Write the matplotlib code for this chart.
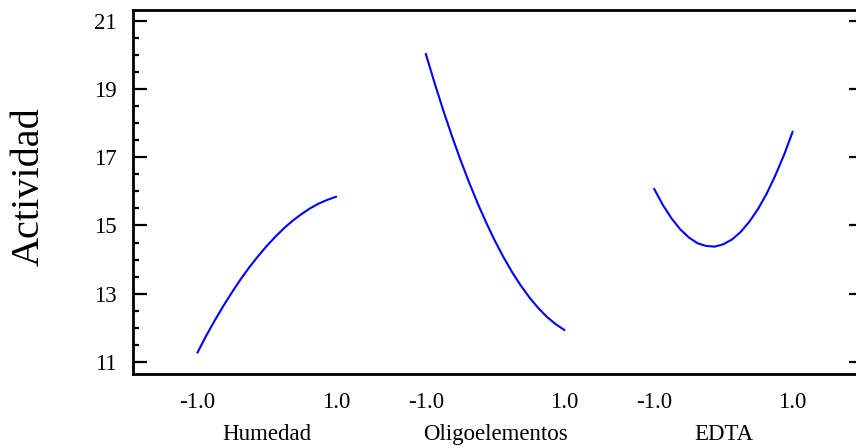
import matplotlib

matplotlib.use("Agg")
import matplotlib.pyplot as plt
from matplotlib.ticker import MultipleLocator
import numpy as np

plt.rcParams["font.family"] = ["Liberation Serif", "DejaVu Serif"]

# Main effects on Actividad: coded level of each factor vs fitted response
factors = ["Humedad", "Oligoelementos", "EDTA"]
levels = [-1.0, -0.875, -0.75, -0.625, -0.5, -0.375, -0.25, -0.125, 0.0,
          0.125, 0.25, 0.375, 0.5, 0.625, 0.75, 0.875, 1.0]
humedad = [11.28, 11.77, 12.22, 12.65, 13.05, 13.43, 13.78, 14.10, 14.40,
           14.67, 14.92, 15.14, 15.33, 15.50, 15.64, 15.75, 15.84]
oligoelementos = [20.02, 19.18, 18.38, 17.63, 16.92, 16.26, 15.64, 15.07, 14.54,
                  14.06, 13.62, 13.23, 12.88, 12.58, 12.32, 12.11, 11.94]
edta = [16.07, 15.60, 15.21, 14.89, 14.65, 14.48, 14.40, 14.38, 14.45,
        14.59, 14.81, 15.11, 15.48, 15.93, 16.46, 17.06, 17.74]
effects = [humedad, oligoelementos, edta]
tick_labels = ["-1.0", "1.0"]

step = 3.3  # distance between factor panels in coded units
fs = 16.5

fig = plt.figure(figsize=(8.56, 4.48), dpi=100)
ax = fig.add_axes([133 / 856, 1 - 374 / 448, 726 / 856, 364 / 448])

lv = np.array(levels)
xticks, xlabels = [], []
for i, (name, vals) in enumerate(zip(factors, effects)):
    off = i * step
    ax.plot(lv + off, vals, color="#0000ff", lw=1.5, solid_joinstyle="round")
    xticks += [lv[0] + off, lv[-1] + off]
    xlabels += tick_labels
    ax.text(off, -0.165, name, transform=ax.get_xaxis_transform(),
            ha="center", va="center", fontsize=fs)

ax.set_xlim(-1.933, 8.56)
ax.set_ylim(10.648, 21.313)
ax.set_xticks(xticks)
ax.set_xticklabels(xlabels, fontsize=fs)
ax.tick_params(axis="x", length=0, pad=13)

ax.yaxis.set_minor_locator(MultipleLocator(0.5))
ax.set_yticks([11, 13, 15, 17, 19, 21])
ax.tick_params(axis="y", which="major", direction="in", length=10, width=1.6,
               labelsize=fs, pad=12)
ax.tick_params(axis="y", which="minor", direction="in", length=4.5, width=1.6)

ax.set_ylabel("Actividad", fontsize=29, va="center")
ax.yaxis.set_label_coords(-0.143, 0.515)

for s in ax.spines.values():
    s.set_linewidth(2.0)
    s.set_color("black")

# right-hand axis: short major dashes and dotted minor ticks
sec = ax.secondary_yaxis("right")
sec.yaxis.set_minor_locator(MultipleLocator(0.5))
sec.set_yticks([11, 13, 15, 17, 19, 21])
sec.tick_params(axis="y", which="major", direction="in", length=7, width=1.6,
                labelright=False)
sec.tick_params(axis="y", which="minor", direction="in", length=2, width=1,
                color="#555555")
sec.spines["right"].set_linewidth(2.0)

fig.savefig("out.png", dpi=100)
